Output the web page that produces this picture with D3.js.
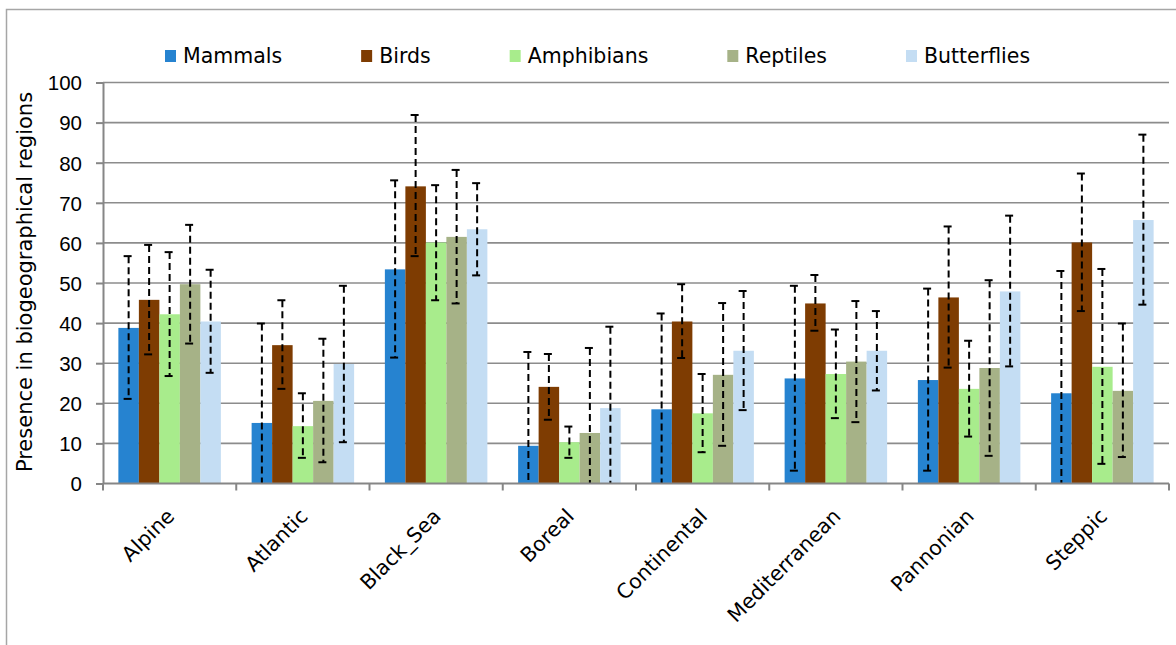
<!DOCTYPE html>
<html>
<head>
<meta charset="utf-8">
<script src="https://cdn.jsdelivr.net/npm/d3@7"></script>
<style>
  html, body { margin: 0; padding: 0; background: #fff; }
  svg { display: block; font-family: "DejaVu Sans", Verdana, sans-serif; }
  .grid line { stroke: #8c8c8c; stroke-width: 1.6; }
  .axis path, .axis line { stroke: #868686; stroke-width: 2; }
  .axis text { font-size: 20.5px; fill: #000; }
  .err { stroke: #000; stroke-width: 2; fill: none; }
</style>
</head>
<body>
<svg id="chart" width="1176" height="645"></svg>
<script>
const regions = ["Alpine", "Atlantic", "Black_Sea", "Boreal", "Continental", "Mediterranean", "Pannonian", "Steppic"];
const seriesNames = ["Mammals", "Birds", "Amphibians", "Reptiles", "Butterflies"];
const seriesColors = ["#2683d0", "#7e3c02", "#a8ec8c", "#a6b287", "#c4ddf3"];
const yTicks = [0, 10, 20, 30, 40, 50, 60, 70, 80, 90, 100];

// bar heights
const mammals = [38.8, 15.1, 53.4, 9.4, 18.5, 26.2, 25.8, 22.5];
const birds = [45.8, 34.5, 74.1, 24.1, 40.4, 44.9, 46.4, 60.1];
const amphibians = [42.2, 14.3, 60.1, 10.3, 17.5, 27.3, 23.6, 29.1];
const reptiles = [49.7, 20.6, 61.5, 12.6, 27.1, 30.4, 28.8, 23.1];
const butterflies = [40.4, 29.8, 63.4, 18.8, 33.1, 33.1, 47.9, 65.7];

// error bar ends (0 = runs down to the axis, no cap)
const mammalsHigh = [56.7, 39.9, 75.6, 32.8, 42.4, 49.3, 48.6, 53.0];
const mammalsLow = [21.1, 0, 31.4, 0, 0, 3.2, 3.2, 0];
const birdsHigh = [59.5, 45.7, 91.9, 32.3, 49.7, 52.0, 64.1, 77.3];
const birdsLow = [32.2, 23.6, 56.7, 15.9, 31.3, 38.1, 28.9, 43.0];
const amphibiansHigh = [57.7, 22.5, 74.4, 14.2, 27.3, 38.4, 35.6, 53.5];
const amphibiansLow = [26.8, 6.4, 45.7, 6.4, 7.8, 16.3, 11.7, 4.9];
const reptilesHigh = [64.5, 36.1, 78.2, 33.8, 45.0, 45.5, 50.7, 39.9];
const reptilesLow = [34.9, 5.3, 44.9, 0, 9.4, 15.3, 6.9, 6.6];
const butterfliesHigh = [53.3, 49.3, 74.9, 39.1, 48.0, 43.0, 66.8, 87.0];
const butterfliesLow = [27.6, 10.3, 51.9, 0, 18.3, 23.2, 29.2, 44.6];

const values = [mammals, birds, amphibians, reptiles, butterflies];
const highs = [mammalsHigh, birdsHigh, amphibiansHigh, reptilesHigh, butterfliesHigh];
const lows = [mammalsLow, birdsLow, amphibiansLow, reptilesLow, butterfliesLow];

(function () {
  "use strict";

  const svg = d3.select("#chart");
  const plot = { left: 103, right: 1169, top: 82.5, bottom: 483.5 };

  // outer chart-area frame
  svg.append("rect")
    .attr("x", 6.5).attr("y", 9.5)
    .attr("width", 1200).attr("height", 700)
    .attr("fill", "none")
    .attr("stroke", "#a6a6a6")
    .attr("stroke-width", 1.5);

  const x0 = d3.scaleBand().domain(regions).range([plot.left, plot.right]).padding(0);
  const x1 = d3.scaleBand().domain(seriesNames).range([0, x0.bandwidth()]).paddingInner(0).paddingOuter(0.75);
  const y = d3.scaleLinear().domain([0, 100]).range([plot.bottom, plot.top]);
  const color = d3.scaleOrdinal().domain(seriesNames).range(seriesColors);

  svg.append("g")
    .attr("class", "grid")
    .selectAll("line")
    .data(yTicks.filter((t) => t > 0))
    .join("line")
    .attr("x1", plot.left)
    .attr("x2", plot.right)
    .attr("y1", (d) => y(d))
    .attr("y2", (d) => y(d));

  const rows = [];
  regions.forEach((r, i) => {
    seriesNames.forEach((s, j) => {
      rows.push({ region: r, series: s, value: values[j][i], hi: highs[j][i], lo: lows[j][i] });
    });
  });

  svg.append("g")
    .selectAll("rect")
    .data(rows)
    .join("rect")
    .attr("x", (d) => x0(d.region) + x1(d.series))
    .attr("width", x1.bandwidth())
    .attr("y", (d) => y(d.value))
    .attr("height", (d) => y(0) - y(d.value))
    .attr("fill", (d) => color(d.series));

  const errG = svg.append("g");
  rows.forEach((d) => {
    const cx = x0(d.region) + x1(d.series) + x1.bandwidth() / 2;
    const yHi = y(d.hi);
    const yLo = y(Math.max(0, d.lo));
    errG.append("line")
      .attr("class", "err")
      .attr("x1", cx).attr("x2", cx)
      .attr("y1", yHi).attr("y2", yLo)
      .attr("stroke-dasharray", "7,4");
    errG.append("line")
      .attr("class", "err")
      .attr("x1", cx - 5).attr("x2", cx + 3)
      .attr("y1", yHi).attr("y2", yHi);
    if (d.lo > 0) {
      errG.append("line")
        .attr("class", "err")
        .attr("x1", cx - 5).attr("x2", cx + 3)
        .attr("y1", yLo).attr("y2", yLo);
    }
  });

  const yAxis = svg.append("g")
    .attr("class", "axis")
    .attr("transform", `translate(${plot.left},0)`)
    .call(d3.axisLeft(y).tickValues(yTicks).tickSize(7).tickPadding(14).tickSizeOuter(0));
  yAxis.selectAll("text").attr("dy", "0.36em");

  const xAxis = svg.append("g")
    .attr("class", "axis")
    .attr("transform", `translate(0,${plot.bottom})`)
    .call(d3.axisBottom(x0).tickSize(0).tickFormat(""));
  xAxis.select(".domain").attr("d", `M${plot.left},0H${plot.right}`);
  xAxis.selectAll(".bound")
    .data(d3.range(regions.length + 1))
    .join("line")
    .attr("class", "bound")
    .attr("x1", (i) => plot.left + i * x0.step())
    .attr("x2", (i) => plot.left + i * x0.step())
    .attr("y1", 0).attr("y2", 7);

  svg.append("g")
    .attr("class", "axis")
    .selectAll("text")
    .data(regions)
    .join("text")
    .attr("text-anchor", "end")
    .attr("transform", (d) => `translate(${x0(d) + x0.bandwidth() / 2 + 6},${plot.bottom + 34}) rotate(-45)`)
    .text((d) => d);

  svg.append("text")
    .attr("transform", `translate(32,${(plot.top + plot.bottom) / 2 - 1}) rotate(-90)`)
    .attr("text-anchor", "middle")
    .style("font-size", "21px")
    .text("Presence in biogeographical regions");

  // legend: swatch, label, then a fixed gap before the next item
  const legend = svg.append("g").attr("transform", "translate(165,0)");
  let lx = 0;
  seriesNames.forEach((s) => {
    legend.append("rect")
      .attr("x", lx).attr("y", 50)
      .attr("width", 11).attr("height", 12)
      .attr("fill", color(s));
    const t = legend.append("text")
      .attr("x", lx + 18).attr("y", 63)
      .style("font-size", "20.5px")
      .text(s);
    lx += 18 + t.node().getComputedTextLength() + 79;
  });
})();
</script>
</body>
</html>
